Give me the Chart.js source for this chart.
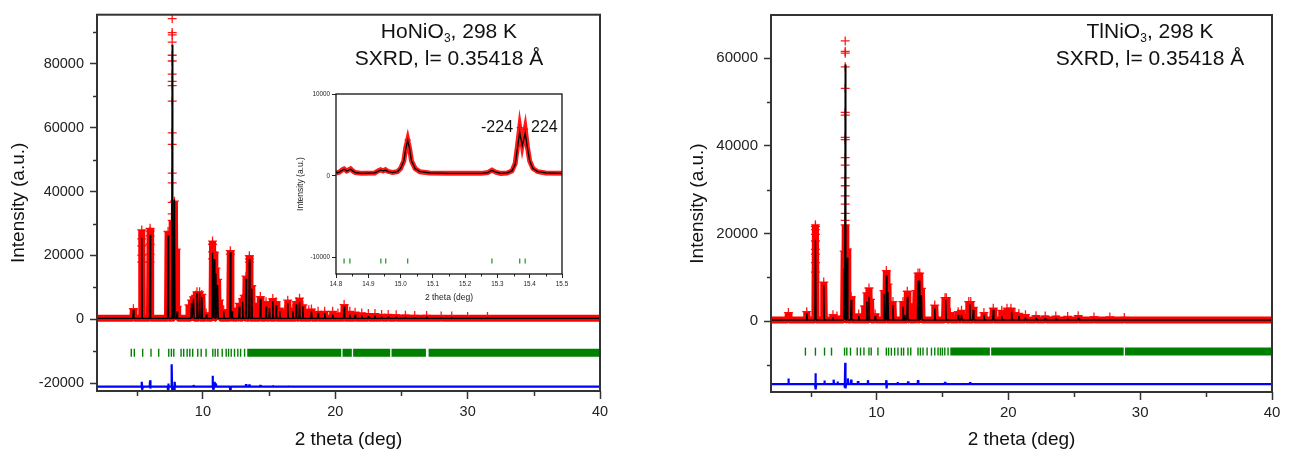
<!DOCTYPE html>
<html><head><meta charset="utf-8">
<script src="https://cdn.jsdelivr.net/npm/chart.js@4.4.1/dist/chart.umd.min.js"></script>
<style>
html,body{margin:0;padding:0;background:#fff;}
body{width:1293px;height:457px;position:relative;overflow:hidden;font-family:'Liberation Sans',Arial,sans-serif;}
canvas{position:absolute;}
.lbl{position:absolute;white-space:nowrap;color:#111;font-family:'Liberation Sans',Arial,sans-serif;text-align:center;}
.sub{font-size:12px;position:relative;top:4px;}
</style></head><body>
<canvas id="cL" width="640" height="457" style="left:0;top:0"></canvas>
<canvas id="cR" width="653" height="457" style="left:640px;top:0"></canvas>
<canvas id="cI" width="290" height="226" style="left:290px;top:84px"></canvas>
<div class="lbl" style="left:299px;top:20px;width:300px;font-size:21px;line-height:21px">HoNiO<span class="sub">3</span>, 298 K</div>
<div class="lbl" style="left:299px;top:47px;width:300px;font-size:21px;line-height:21px">SXRD, l= 0.35418 Å</div>
<div class="lbl" style="left:1000px;top:20px;width:300px;font-size:21px;line-height:21px">TlNiO<span class="sub">3</span>, 298 K</div>
<div class="lbl" style="left:1000px;top:47px;width:300px;font-size:21px;line-height:21px">SXRD, l= 0.35418 Å</div>
<div class="lbl" style="left:481px;top:119px;font-size:16px;line-height:16px;text-align:left">-224</div>
<div class="lbl" style="left:531px;top:119px;font-size:16px;line-height:16px;text-align:left">224</div>
<script>
// ================= LEFT PANEL : HoNiO3 =================
const L_xTicks = [10, 20, 30, 40];
const L_xMinor = [5, 15, 25, 35];
const L_yTicks = [-20000, 0, 20000, 40000, 60000, 80000];
const L_yMinor = [-10000, 10000, 30000, 50000, 70000, 90000];
const L_base = 300;
const L_calcPos = [4.75,5.38,6.01,7.37,7.68,7.85,8.05,9.14,9.29,9.55,9.75,9.92,10.25,10.73,10.86,10.98,11.11,11.57,12.07,12.2,12.75,13.0,13.26,13.51,13.69,14.34,14.77,15.03,15.28,15.53,15.8,16.41,16.8,17.05,17.3,17.55,18.2,18.7,19.2,19.8,20.67,21.1,21.5,22.0,22.5,23.0,23.5,24.0,24.6,25.3,26.0,26.9,28.0,28.8,30.0,31.5];
const L_calcTop = [3000,25500,26500,26300,86000,37500,2500,5000,6400,8300,8300,7000,1500,20900,18900,14300,10700,2500,21000,2500,4000,5500,12700,18900,9600,6400,4000,3500,5700,4500,2500,5000,2500,4700,5500,4000,2500,2000,2000,1500,4000,1500,1500,1200,1000,1200,800,800,700,700,600,800,500,700,400,500];
const L_obsPos = [4.75,5.38,6.01,7.37,7.5,7.68,7.85,7.98,8.05,8.95,9.14,9.29,9.45,9.55,9.75,9.92,10.25,10.73,10.86,10.98,11.11,11.25,11.57,12.07,12.2,12.6,12.75,13.0,13.12,13.26,13.51,13.69,13.85,14.34,14.77,15.03,15.28,15.53,15.8,16.2,16.41,16.8,17.05,17.3,17.55,18.0,18.2,18.7,19.2,19.8,20.2,20.67,21.1,21.5,22.0,22.5,23.0,23.5,24.0,24.6,25.3,26.0,26.9,28.0,28.8,30.0,31.5];
const L_obsTop = [3300,28000,28500,27500,22000,31000,37000,22000,4000,4500,6000,7000,7500,8600,8600,7800,2000,24500,21000,16000,12500,6000,3000,21500,3000,3500,5000,6500,7500,13500,19900,10500,5000,7100,5500,5000,6500,5500,3500,3000,6000,3500,5500,6600,4500,3000,3200,2500,2500,2500,2000,4600,2500,2200,2000,1800,1800,1500,1500,1400,1300,1200,1200,1000,1000,900,900];
const L_markPos = [7.68, 5.38, 6.01, 10.73, 12.07, 13.51];
const L_markVals = [
  [94200,89800,89100,86800,82700,80900,76800,74500,73200,68300,58400,54800,45800,42700,36600,33000],
  [25200,23000,20100,17900],
  [27600,26100,23500,20400,17900],
  [23500,21100,18900],
  [20400],
  [18900,17900]
];
const L_reflPos = [4.59,4.82,5.45,6.08,6.66,7.42,7.62,7.80,8.35,8.55,8.81,9.01,9.23,9.61,9.87,10.24,10.75,10.93,11.13,11.46,11.76,11.94,12.14,12.39,12.64,12.85,13.15];
const L_reflBands = [[13.35,20.45],[20.55,21.25],[21.35,24.15],[24.25,26.85],[27.05,40]];
const L_reflY = -10500;
const L_diffBase = -21100;
const L_diffPos = [5.38,5.41,6.01,6.04,7.37,7.40,7.64,7.70,7.85,7.88,9.30,9.60,10.73,10.78,10.86,10.98,12.07,13.26,13.51,14.34,15.28,16.41];
const L_diffVal = [1500,-800,2000,-600,-2000,1000,7000,-2500,-2000,1500,500,400,3400,-800,1500,1000,-1500,800,700,500,400,300];

// ================= RIGHT PANEL : TlNiO3 =================
const R_xTicks = [10, 20, 30, 40];
const R_xMinor = [5, 15, 25, 35];
const R_yTicks = [0, 20000, 40000, 60000];
const R_yMinor = [-10000, 10000, 30000, 50000];
const R_base = 300;
const R_calcPos = [4.71,5.37,6.0,6.7,7.55,7.63,7.78,8.08,8.65,9.27,9.43,9.9,10.57,10.75,10.87,11.25,12.01,12.15,12.34,13.15,13.28,13.41,14.42,15.25,16.2,16.45,17.08,17.34,18.15,18.86,19.5,20.25,20.8,21.3,22.1,22.8,23.6,24.5,25.3,26.5,27.7];
const R_calcTop = [1900,18600,8200,1000,12000,58500,14500,4850,1200,4500,5600,1200,6300,10450,6700,3700,3350,1500,5600,9300,9300,6000,3000,4850,1500,1500,3900,2600,1500,2600,1200,2200,1200,900,800,700,700,600,800,500,500];
const R_obsPos = [3.32,4.71,5.37,6.0,6.7,7.0,7.55,7.63,7.78,8.08,8.65,9.1,9.27,9.43,9.55,9.9,10.57,10.75,10.87,11.0,11.25,12.01,12.15,12.34,12.5,13.0,13.15,13.28,13.41,14.42,15.2,15.3,15.6,16.2,16.45,17.0,17.15,17.34,18.15,18.86,19.5,19.9,20.2,20.5,20.8,21.3,22.1,22.8,23.6,24.5,25.3,26.5,27.7,28.8];
const R_obsTop = [2000,2200,22000,8950,1500,1200,16000,22000,16500,5600,1700,3500,6500,7600,5000,1700,7000,11560,8500,4000,4500,4500,3000,6860,4000,7000,11000,11000,7500,3700,5400,5400,2000,2200,2500,4500,4500,3200,2000,3000,2500,3000,3000,2000,1800,1500,1300,1200,1200,1100,1300,1000,1000,900];
const R_markPos = [7.63, 5.37];
const R_markVals = [
  [63900,61500,61100,58000,53100,47600,47000,41900,41400,37300,35600,32700,30900,28600,26700,24600,23000],
  [21600,20900,19800,18300,16400,15300,13400,11200]
];
const R_reflPos = [4.61,5.37,6.06,6.59,7.58,7.75,8.03,8.54,8.79,9.05,9.43,9.60,10.11,10.75,10.92,11.13,11.38,11.63,11.89,12.06,12.39,12.60,13.15,13.33,13.53,13.84,14.17,14.42,14.67,14.85,15.0,15.18,15.43];
const R_reflBands = [[15.6,18.6],[18.7,28.75],[28.85,40]];
const R_reflY = -6900;
const R_diffBase = -14300;
const R_diffPos = [3.32,5.37,5.40,6.05,6.75,7.05,7.60,7.63,7.66,7.83,8.08,8.60,9.35,10.75,10.77,11.60,12.40,13.15,15.20,17.10];
const R_diffVal = [1300,2500,-1200,800,1000,600,-800,4850,-1000,1300,1000,700,900,900,-1000,500,600,900,500,400];

// ================= INSET (HoNiO3, 14.8-15.5 deg) =================
const I_xTicks = [14.8, 14.9, 15.0, 15.1, 15.2, 15.3, 15.4, 15.5];
const I_xMinor = [14.85, 14.95, 15.05, 15.15, 15.25, 15.35, 15.45];
const I_yTicks = [-10000, 0, 10000];
const I_x    = [14.80,14.81,14.82,14.825,14.833,14.84,14.845,14.852,14.86,14.88,14.92,14.93,14.938,14.946,14.953,14.96,14.975,14.99,15.00,15.01,15.016,15.022,15.028,15.034,15.045,15.06,15.09,15.15,15.25,15.27,15.283,15.295,15.31,15.33,15.345,15.355,15.362,15.369,15.377,15.386,15.393,15.40,15.41,15.425,15.45,15.50];
const I_calc = [350,450,700,800,600,700,800,600,400,300,350,550,700,600,700,550,400,500,900,1800,3300,4300,3300,1800,900,500,350,300,300,400,650,450,300,350,600,1400,3400,5300,3700,5200,3400,1800,900,500,350,300];
const I_obs  = [350,450,750,850,600,750,850,600,400,300,350,600,750,600,750,550,400,500,900,1800,3400,4400,3300,1800,900,500,350,300,300,400,700,450,300,350,600,1500,3600,5900,3800,5700,3500,1800,900,500,350,300];
const I_obsMarkX = [15.022, 15.369, 15.386];
const I_obsMarkY = [4400, 5900, 5700];
const I_reflPos = [14.825, 14.843, 14.939, 14.954, 15.022, 15.283, 15.369, 15.386];
const I_reflY = -10400;

// ---------- helpers (build library datasets from the arrays) ----------
function spikeLine(base, pos, top, w, x0, x1) {
  const d = [{x: x0, y: base}];
  pos.forEach((p, i) => { d.push({x: p - w, y: base}, {x: p, y: top[i]}, {x: p + w, y: base}); });
  d.push({x: x1, y: base});
  return d;
}
function pts(xs, ys) { return xs.map((x, i) => ({x: x, y: ys[i]})); }
function marks(pos, vals) { const d = []; pos.forEach((p, i) => vals[i].forEach(v => d.push({x: p, y: v}))); return d; }
function bandLine(bands, y) { const d = []; bands.forEach(b => { d.push({x: b[0], y: y}, {x: b[1], y: y}, {x: b[1], y: null}); }); return d; }

const frameMinor = {
  id: 'frameMinor',
  afterDraw(chart, args, o) {
    const ctx = chart.ctx, xs = chart.scales.x, ys = chart.scales.y, a = chart.chartArea;
    ctx.save();
    ctx.strokeStyle = o.tickColor; ctx.lineWidth = o.tickWidth;
    o.xMinor.forEach(v => { const px = Math.round(xs.getPixelForValue(v)) + 0.5; ctx.beginPath(); ctx.moveTo(px, a.bottom); ctx.lineTo(px, a.bottom + o.xLen); ctx.stroke(); });
    o.yMinor.forEach(v => { const py = Math.round(ys.getPixelForValue(v)) + 0.5; ctx.beginPath(); ctx.moveTo(a.left, py); ctx.lineTo(a.left - o.yLen, py); ctx.stroke(); });
    ctx.strokeStyle = o.frameColor; ctx.lineWidth = o.frameWidth;
    ctx.strokeRect(a.left, a.top, a.right - a.left, a.bottom - a.top);
    ctx.restore();
  }
};

Chart.defaults.font.family = "'Liberation Sans', Arial, sans-serif";
Chart.defaults.color = '#222';

function mainChart(id, c) {
  const w = 0.045;
  return new Chart(document.getElementById(id), {
    type: 'line',
    data: { datasets: [
      { label: 'Calculated', data: spikeLine(c.base, c.calcPos, c.calcTop, w, 2, 40), borderColor: '#000', borderWidth: 1.4, pointRadius: 0, borderJoinStyle: 'bevel', tension: 0 },
      { label: 'Difference', data: spikeLine(c.diffBase, c.diffPos, c.diffPos.map((p, i) => c.diffBase + c.diffVal[i]), 0.03, 2, 40), borderColor: '#0000ff', borderWidth: 2.2, pointRadius: 0, borderJoinStyle: 'bevel' },
      { label: 'Bragg positions', type: 'scatter', data: c.reflPos.map(p => ({x: p, y: c.reflY})), pointStyle: 'line', rotation: 90, pointRadius: 4, borderColor: '#008000', backgroundColor: '#008000', borderWidth: 1.4 },
      { label: 'Bragg band', data: bandLine(c.reflBands, c.reflY), borderColor: '#008000', borderWidth: 8, pointRadius: 0, borderCapStyle: 'butt', spanGaps: false },
      { label: 'Observed points', type: 'scatter', data: pts(c.obsPos, c.obsTop).concat(marks(c.markPos, c.markVals)), pointStyle: 'cross', pointRadius: 4.5, borderColor: 'rgba(255,0,0,0.9)', borderWidth: 1.3 },
      { label: 'Observed', data: spikeLine(c.base, c.obsPos, c.obsTop, w, 2, 40), borderColor: '#ff0000', borderWidth: 7, pointRadius: 0, borderJoinStyle: 'bevel' }
    ]},
    options: {
      responsive: false, animation: false, events: [], devicePixelRatio: 1,
      layout: { padding: { top: 8, right: c.padRight, left: 0, bottom: 0 } },
      plugins: { legend: { display: false }, tooltip: { enabled: false },
        frameMinor: { xMinor: c.xMinor, yMinor: c.yMinor, xLen: 5, yLen: 4, tickColor: '#333', tickWidth: 1.5, frameColor: '#333', frameWidth: 2 } },
      scales: {
        x: { type: 'linear', min: 2, max: 40,
          afterBuildTicks: s => { s.ticks = c.xTicks.map(v => ({value: v})); },
          afterFit: s => { s.height = c.xH; },
          ticks: { callback: v => String(v), font: { size: c.tickFont }, color: '#222', padding: 4, autoSkip: false, maxRotation: 0 },
          grid: { display: true, drawOnChartArea: false, drawTicks: true, tickLength: 8, tickColor: '#333', tickWidth: 1.5 },
          border: { display: false },
          title: { display: true, text: '2 theta (deg)', font: { size: 19 }, color: '#111', padding: { top: 0, bottom: 6 } } },
        y: { type: 'linear', min: c.yMin, max: c.yMax,
          afterBuildTicks: s => { s.ticks = c.yTicks.map(v => ({value: v})); },
          afterFit: s => { s.width = c.yW; },
          ticks: { callback: v => String(v), font: { size: c.tickFont }, color: '#222', padding: 6 },
          grid: { display: true, drawOnChartArea: false, drawTicks: true, tickLength: 7, tickColor: '#333', tickWidth: 1.5 },
          border: { display: false },
          title: { display: true, text: 'Intensity (a.u.)', font: { size: 19 }, color: '#111', padding: { top: c.yTitlePad, bottom: 0 } } }
      }
    },
    plugins: [frameMinor]
  });
}

mainChart('cL', { base: L_base, calcPos: L_calcPos, calcTop: L_calcTop, obsPos: L_obsPos, obsTop: L_obsTop, markPos: L_markPos, markVals: L_markVals,
  reflPos: L_reflPos, reflBands: L_reflBands, reflY: L_reflY, diffBase: L_diffBase, diffPos: L_diffPos, diffVal: L_diffVal,
  xTicks: L_xTicks, xMinor: L_xMinor, yTicks: L_yTicks, yMinor: L_yMinor, yMin: -22460, yMax: 95400,
  padRight: 40, xH: 66, yW: 97, tickFont: 14.5, yTitlePad: 7 });

mainChart('cR', { base: R_base, calcPos: R_calcPos, calcTop: R_calcTop, obsPos: R_obsPos, obsTop: R_obsTop, markPos: R_markPos, markVals: R_markVals,
  reflPos: R_reflPos, reflBands: R_reflBands, reflY: R_reflY, diffBase: R_diffBase, diffPos: R_diffPos, diffVal: R_diffVal,
  xTicks: R_xTicks, xMinor: R_xMinor, yTicks: R_yTicks, yMinor: R_yMinor, yMin: -16100, yMax: 69800,
  padRight: 21, xH: 65, yW: 131, tickFont: 15, yTitlePad: 46 });

// inset
new Chart(document.getElementById('cI'), {
  type: 'line',
  data: { datasets: [
    { label: 'Calculated', data: pts(I_x, I_calc), borderColor: '#000', borderWidth: 1.3, pointRadius: 0 },
    { label: 'Bragg positions', type: 'scatter', data: I_reflPos.map(p => ({x: p, y: I_reflY})), pointStyle: 'line', rotation: 90, pointRadius: 2.5, borderColor: '#2a9d2a', borderWidth: 1.3 },
    { label: 'Observed points', type: 'scatter', data: pts(I_obsMarkX, I_obsMarkY), pointStyle: 'cross', pointRadius: 3, borderColor: '#ff0000', borderWidth: 1.3 },
    { label: 'Observed', data: pts(I_x, I_obs), borderColor: 'rgba(255,0,0,0.9)', borderWidth: 5, pointRadius: 0 }
  ]},
  options: {
    responsive: false, animation: false, events: [], devicePixelRatio: 1,
    layout: { padding: { top: 10, right: 18, left: 0, bottom: 0 } },
    plugins: { legend: { display: false }, tooltip: { enabled: false },
      frameMinor: { xMinor: I_xMinor, yMinor: [], xLen: 2.5, yLen: 0, tickColor: '#222', tickWidth: 1, frameColor: '#111', frameWidth: 1.3 } },
    scales: {
      x: { type: 'linear', min: 14.8, max: 15.5,
        afterBuildTicks: s => { s.ticks = I_xTicks.map(v => ({value: v})); },
        afterFit: s => { s.height = 36; },
        ticks: { callback: v => v.toFixed(1), font: { size: 6.3 }, color: '#222', padding: 2, autoSkip: false, maxRotation: 0 },
        grid: { display: true, drawOnChartArea: false, drawTicks: true, tickLength: 4, tickColor: '#222', tickWidth: 1 },
        border: { display: false },
        title: { display: true, text: '2 theta (deg)', font: { size: 8.5 }, color: '#222', padding: { top: 0, bottom: 7 } } },
      y: { type: 'linear', min: -12000, max: 10000,
        afterBuildTicks: s => { s.ticks = I_yTicks.map(v => ({value: v})); },
        afterFit: s => { s.width = 46; },
        ticks: { callback: v => String(v), font: { size: 6.3 }, color: '#222', padding: 2 },
        grid: { display: true, drawOnChartArea: false, drawTicks: true, tickLength: 4, tickColor: '#222', tickWidth: 1 },
        border: { display: false },
        title: { display: true, text: 'Intensity (a.u.)', font: { size: 8.5 }, color: '#222', padding: { top: 6, bottom: 0 } } }
    }
  },
  plugins: [frameMinor]
});
</script>
</body></html>
